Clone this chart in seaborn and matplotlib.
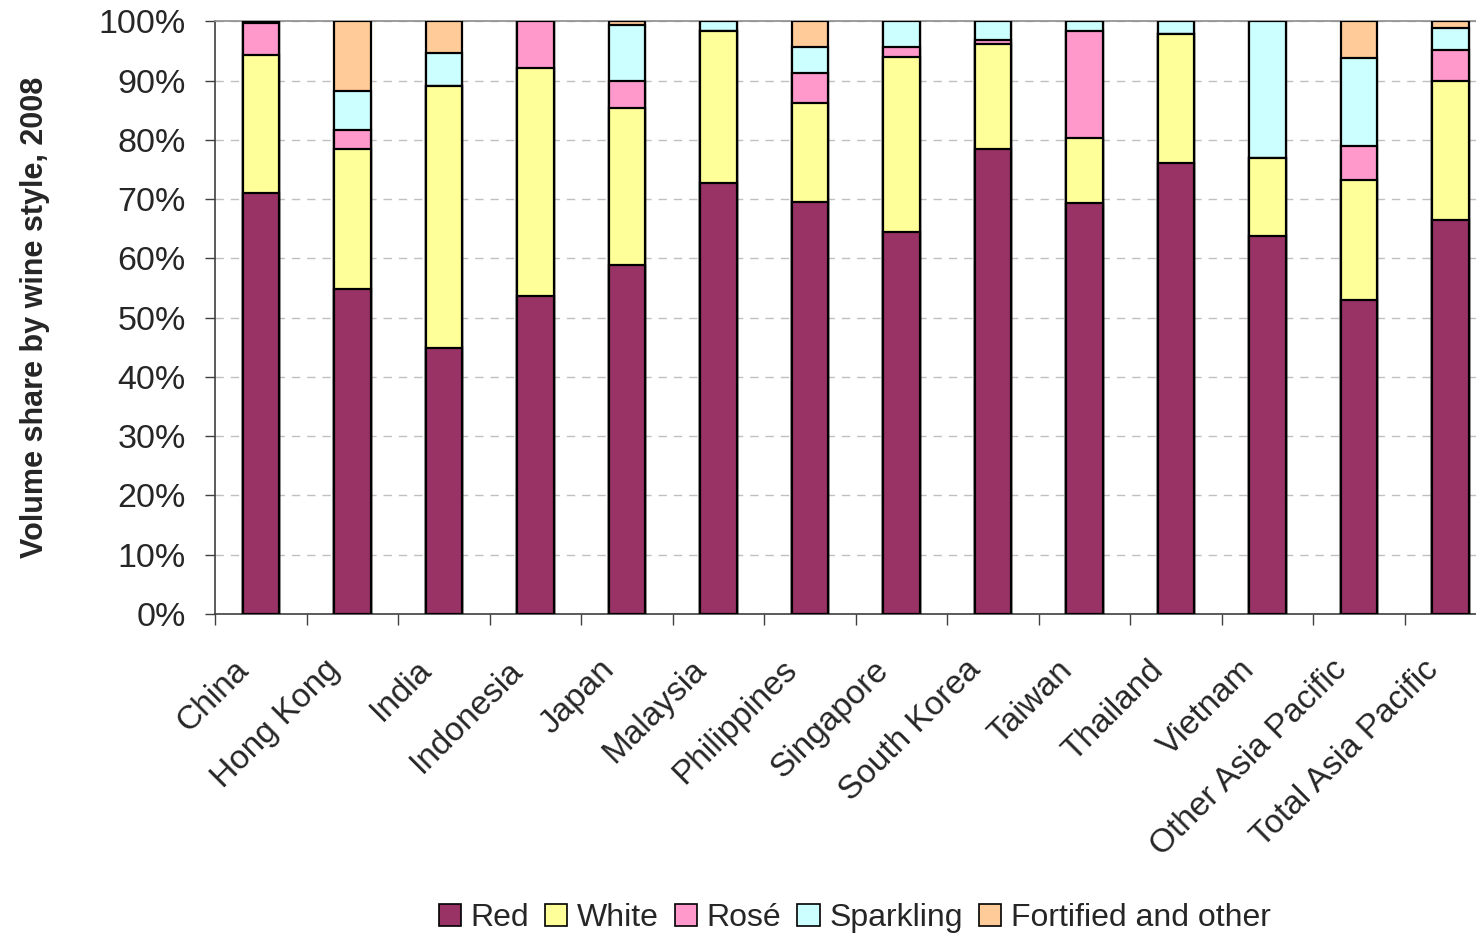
import matplotlib
matplotlib.use("Agg")
import matplotlib.pyplot as plt
from matplotlib.patches import Patch
from matplotlib.ticker import FixedLocator, PercentFormatter
from matplotlib.transforms import ScaledTranslation
import numpy as np
import pandas as pd
import seaborn as sns

markets = ["China", "Hong Kong", "India", "Indonesia", "Japan", "Malaysia",
           "Philippines", "Singapore", "South Korea", "Taiwan", "Thailand",
           "Vietnam", "Other Asia Pacific", "Total Asia Pacific"]

red =       [71.0, 54.9, 44.8, 53.7, 58.8, 72.8, 69.5, 64.5, 78.4, 69.3, 76.1, 63.7, 52.9, 66.4]
white =     [23.3, 23.6, 44.3, 38.5, 26.6, 25.6, 16.7, 29.5, 17.8, 11.0, 21.8, 13.2, 20.4, 23.6]
rose =      [5.4,  3.1,  0.0,  7.8,  4.6,  0.0,  5.1,  1.7,  0.6,  18.1, 0.0,  0.0,  5.7,  5.1]
sparkling = [0.1,  6.6,  5.5,  0.0,  9.4,  1.6,  4.4,  4.3,  3.2,  1.6,  2.1,  23.1, 14.8, 3.8]
fortified = [0.2,  11.8, 5.4,  0.0,  0.6,  0.0,  4.3,  0.0,  0.0,  0.0,  0.0,  0.0,  6.2,  1.1]

styles = ["Red", "White", "Rosé", "Sparkling", "Fortified and other"]
colors = ["#993366", "#FFFF99", "#FF99CC", "#CCFFFF", "#FFCC99"]

sns.set_theme(style="white")
plt.rcParams["font.family"] = ["Liberation Sans", "DejaVu Sans"]

shares = pd.DataFrame({"Red": red, "White": white, "Rosé": rose,
                       "Sparkling": sparkling, "Fortified and other": fortified},
                      index=markets)
cumulative = shares.cumsum(axis=1)

fig = plt.figure(figsize=(14.76, 9.38), dpi=100)
ax = fig.add_axes([0.1457, 0.3454, 0.8679, 0.6319])

# stack by drawing running totals from the top layer downwards
for style, color in reversed(list(zip(styles, colors))):
    df = pd.DataFrame({"market": markets, "share": cumulative[style].values})
    sns.barplot(data=df, x="market", y="share", color=color, saturation=1,
                width=0.4, edgecolor="black", linewidth=1.6, ax=ax, zorder=3)

ax.set_xlim(-0.5, len(markets) - 0.5)
ax.set_ylim(0, 100)
ax.yaxis.set_major_locator(FixedLocator(np.arange(0, 101, 10)))
ax.yaxis.set_major_formatter(PercentFormatter(decimals=0))
ax.grid(axis="y", color="#c0c0c0", linestyle=(0, (6, 5)), linewidth=1.0, zorder=0)
ax.set_axisbelow(True)

for side in ["left", "bottom"]:
    ax.spines[side].set_visible(True)
    ax.spines[side].set_color("#404040")
    ax.spines[side].set_linewidth(1.2)
ax.spines["top"].set_visible(True)
ax.spines["top"].set_color("#909090")
ax.spines["right"].set_visible(False)

ax.tick_params(axis="y", which="major", left=True, length=7, width=1.0,
               color="#404040", labelsize=24.5, pad=14)
ax.set_xticks(range(len(markets)))
ax.set_xticklabels(markets, rotation=45, ha="right", rotation_mode="anchor")
ax.tick_params(axis="x", which="major", bottom=False, labelsize=24, pad=23)
ax.set_xticks(np.arange(-0.5, len(markets), 1.0), minor=True)
ax.tick_params(axis="x", which="minor", bottom=True, length=8, width=1.0,
               color="#404040")
shift = ScaledTranslation(-28 / 100, 0, fig.dpi_scale_trans)
for lbl in ax.get_xticklabels():
    lbl.set_transform(lbl.get_transform() + shift)

ax.set_xlabel("")
ax.set_ylabel("Volume share by wine style, 2008", fontsize=22,
              fontweight="bold", labelpad=35)

handles = [Patch(facecolor=c, edgecolor="black", linewidth=1.2, label=s)
           for s, c in zip(styles, colors)]
fig.legend(handles=handles, loc="center", bbox_to_anchor=(0.579, 0.021),
           ncol=5, frameon=False, fontsize=23, handlelength=0.7,
           handleheight=0.7, handletextpad=0.3, columnspacing=0.5)

fig.savefig("out.png", dpi=100)
